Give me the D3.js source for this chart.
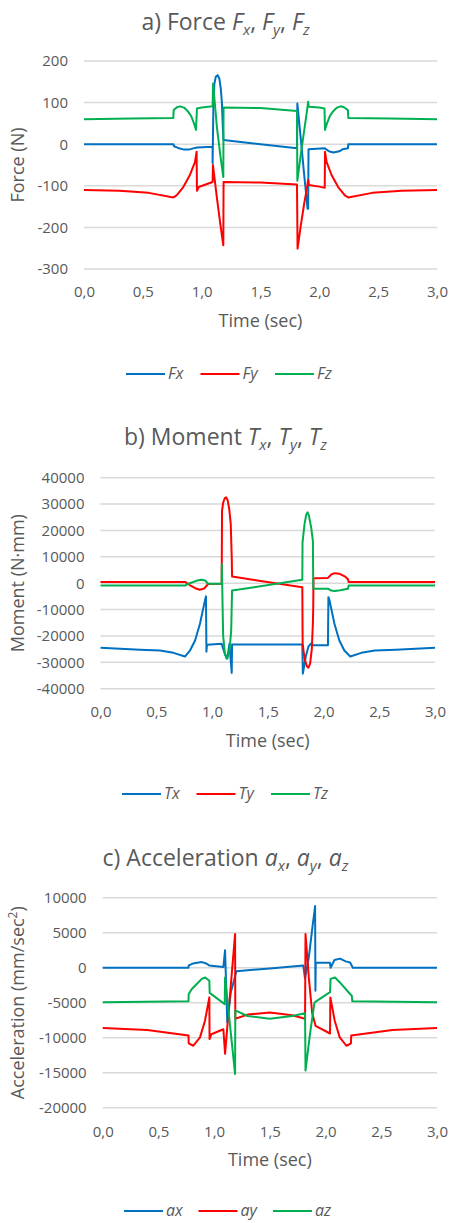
<!DOCTYPE html>
<html>
<head>
<meta charset="utf-8">
<script src="https://cdn.jsdelivr.net/npm/d3@7"></script>
<style>
  body { margin: 0; background: #fff; }
  text { font-family: "Open Sans", sans-serif; fill: #595959; }
</style>
</head>
<body>
<svg id="chart" width="451" height="1223"></svg>
<script>
// shared x ticks (time in seconds)
var timeTicks = [0, 0.5, 1, 1.5, 2, 2.5, 3];

// a) force, N
var forceTicks = [200, 100, 0, -100, -200, -300];
var fx = [[0,0],[0.76,0],[0.765,-5],[0.8,-9],[0.85,-13],[0.89,-13],[0.93,-10],[0.96,-8],[1.093,-6],[1.093,-46],
  [1.1,100],[1.108,145],[1.12,162],[1.136,166],[1.15,158],[1.162,135],[1.172,100],[1.18,40],[1.185,10],[1.5,0],
  [1.81,-10],[1.813,98],[1.84,20],[1.87,-70],[1.9,-155],[1.905,-155],[1.908,-12],[2.048,-10],[2.08,-17],[2.12,-20],
  [2.17,-17],[2.2,-12],[2.243,-10],[2.246,0],[3,0]];
var fy = [[0,-110],[0.3,-112],[0.55,-117],[0.76,-128],[0.787,-123],[0.844,-103],[0.9,-74],[0.943,-43],[0.957,-18],
  [0.96,-112],[0.975,-103],[1.093,-91],[1.096,-50],[1.13,-130],[1.16,-195],[1.184,-243],[1.186,-91],[1.5,-92],
  [1.81,-97],[1.815,-251],[1.84,-200],[1.87,-145],[1.895,-105],[1.905,-86],[1.91,-98],[2.0,-102],[2.046,-105],
  [2.048,-18],[2.062,-43],[2.104,-74],[2.16,-103],[2.217,-123],[2.246,-128],[2.45,-117],[2.7,-112],[3,-110]];
var fz = [[0,60],[0.4,62],[0.759,63],[0.762,82],[0.79,89],[0.816,91],[0.85,88],[0.88,80],[0.91,68],[0.935,50],
  [0.952,34],[0.96,86],[1.0,88],[1.093,91],[1.097,146],[1.13,40],[1.16,-30],[1.184,-79],[1.186,88],[1.5,87],
  [1.81,80],[1.813,-88],[1.84,-30],[1.87,30],[1.89,70],[1.905,102],[1.91,90],[2.0,88],[2.044,86],[2.048,34],
  [2.065,50],[2.09,68],[2.12,80],[2.15,88],[2.18,91],[2.21,89],[2.243,82],[2.246,63],[2.6,62],[3,60]];

// b) moment, N·mm
var momentTicks = [40000, 30000, 20000, 10000, 0, -10000, -20000, -30000, -40000];
var tx = [[0,-24500],[0.354,-25200],[0.534,-25500],[0.654,-26400],[0.758,-27800],[0.803,-25500],[0.848,-21700],
  [0.892,-15400],[0.937,-6500],[0.946,-5000],[0.95,-26000],[0.955,-23300],[1.087,-23000],[1.117,-27000],
  [1.138,-28500],[1.156,-23000],[1.177,-34000],[1.18,-23200],[1.5,-23200],[1.81,-23200],[1.815,-34300],
  [1.84,-28000],[1.865,-24000],[1.89,-22800],[1.91,-23500],[2.04,-23500],[2.044,-5300],[2.054,-6500],
  [2.098,-15400],[2.142,-21700],[2.187,-25500],[2.24,-27800],[2.34,-26400],[2.46,-25500],[2.65,-25200],[3,-24500]];
var ty = [[0,500],[0.758,500],[0.8,-700],[0.85,-1900],[0.89,-2500],[0.93,-2000],[0.965,-300],[1.087,-200],
  [1.09,27500],[1.1,30500],[1.115,32300],[1.126,32600],[1.14,31500],[1.155,28000],[1.168,22500],[1.177,9800],
  [1.18,2500],[1.81,-1500],[1.813,-23000],[1.83,-28500],[1.85,-31500],[1.865,-32000],[1.88,-30500],[1.895,-25000],
  [1.905,-15000],[1.908,-9000],[1.91,1900],[2.04,2000],[2.07,3300],[2.1,3800],[2.14,3600],[2.19,2600],[2.22,1500],
  [2.225,500],[3,500]];
var tz = [[0,-900],[0.758,-900],[0.8,0],[0.86,900],[0.9,1300],[0.94,1000],[0.965,-200],[1.087,-200],[1.088,7300],
  [1.092,-2000],[1.1,-20000],[1.115,-26500],[1.13,-28600],[1.145,-27500],[1.16,-24000],[1.172,-18000],[1.18,-2800],
  [1.81,1300],[1.812,15500],[1.83,22500],[1.845,26000],[1.857,26900],[1.87,25500],[1.89,21000],[1.905,16000],
  [1.908,-2100],[2.04,-2100],[2.07,-2800],[2.1,-3000],[2.15,-2700],[2.22,-2100],[2.225,-900],[3,-900]];

// c) acceleration, mm/sec²
var accelTicks = [10000, 5000, 0, -5000, -10000, -15000, -20000];
var ax = [[0,0],[0.77,0],[0.772,330],[0.82,650],[0.89,800],[0.93,600],[0.955,330],[1.083,100],[1.098,2500],
  [1.118,-7800],[1.15,-3500],[1.2,-500],[1.5,-100],[1.8,300],[1.815,-1500],[1.85,1500],[1.88,5500],[1.906,8800],
  [1.909,-3300],[1.912,700],[2.04,700],[2.045,0],[2.08,1100],[2.13,1300],[2.18,900],[2.22,750],[2.245,0],[3,0]];
var ay = [[0,-8600],[0.4,-8900],[0.77,-9700],[0.772,-10800],[0.813,-11150],[0.873,-9950],[0.918,-7570],[0.957,-4240],
  [0.959,-10200],[0.975,-9500],[1.083,-8800],[1.098,-12300],[1.188,4800],[1.19,-7300],[1.3,-6700],[1.5,-6400],
  [1.7,-6800],[1.816,-7300],[1.82,4800],[1.85,-1500],[1.88,-6500],[1.91,-8300],[2.04,-9400],[2.043,-4240],
  [2.082,-7570],[2.127,-9950],[2.187,-11150],[2.228,-10800],[2.23,-9700],[2.6,-8900],[3,-8600]];
var az = [[0,-4950],[0.77,-4800],[0.772,-3750],[0.8,-3050],[0.844,-2330],[0.889,-1600],[0.92,-1400],[0.957,-1860],
  [0.96,-3600],[1.095,-5200],[1.098,-1400],[1.188,-15200],[1.19,-6100],[1.3,-6900],[1.5,-7300],[1.7,-6900],
  [1.816,-6500],[1.82,-14700],[1.86,-9500],[1.9,-5000],[1.915,-4800],[2.04,-3500],[2.045,-1600],[2.085,-1400],
  [2.14,-2300],[2.2,-3400],[2.235,-4000],[2.24,-4800],[3,-4950]];

var colors = ["#0070C0", "#FF0000", "#00B050"];

// comma decimals like the original spreadsheet
var locale = d3.formatLocale({ decimal: ",", thousands: ".", grouping: [3], currency: ["", ""], minus: "-" });
var fmtTime = locale.format(".1f"),
    fmtVal = locale.format("d");

var svg = d3.select("#chart");

function drawChart(o) {
    var g = svg.append("g");

    var x = d3.scaleLinear().domain([0, 3]).range([o.left, o.right]);
    var y = d3.scaleLinear()
        .domain([o.yTicks[o.yTicks.length - 1], o.yTicks[0]])
        .range([o.bottom, o.top]);

    // horizontal gridlines
    g.selectAll(".grid")
        .data(o.yTicks)
        .enter().append("line")
        .attr("class", "grid")
        .attr("x1", o.left).attr("x2", o.right)
        .attr("y1", function (d) { return y(d); })
        .attr("y2", function (d) { return y(d); })
        .attr("stroke", "#d9d9d9")
        .attr("stroke-width", 1.5);

    // y axis labels
    var ya = g.append("g")
        .attr("transform", "translate(" + o.left + ",0)")
        .call(d3.axisLeft(y).tickValues(o.yTicks).tickFormat(fmtVal).tickSize(0).tickPadding(16));
    ya.select(".domain").remove();
    ya.selectAll("text").attr("font-size", 15).attr("fill", "#595959").attr("font-family", "Open Sans");

    // x axis labels
    var xa = g.append("g")
        .attr("transform", "translate(0," + o.bottom + ")")
        .call(d3.axisBottom(x).tickValues(timeTicks).tickFormat(fmtTime).tickSize(0).tickPadding(o.xPad));
    xa.select(".domain").remove();
    xa.selectAll("text").attr("font-size", 15).attr("fill", "#595959").attr("font-family", "Open Sans");

    // data lines
    var line = d3.line()
        .x(function (d) { return x(d[0]); })
        .y(function (d) { return y(d[1]); });

    o.series.forEach(function (s, i) {
        g.append("path")
            .datum(s)
            .attr("fill", "none")
            .attr("stroke", colors[i])
            .attr("stroke-width", 2)
            .attr("stroke-linejoin", "round")
            .attr("d", line);
    });

    // chart title with italic subscripts
    var t = g.append("text")
        .attr("x", 225.5).attr("y", o.titleY)
        .attr("text-anchor", "middle")
        .attr("font-size", 23);
    var prevSub = false;
    o.title.forEach(function (p) {
        var ts = t.append("tspan").text(p[0]);
        if (p[1] != "n") ts.attr("font-style", "italic");
        if (p[1] == "s") ts.attr("font-size", 15).attr("dy", 5);
        else if (prevSub) ts.attr("dy", -5);
        prevSub = p[1] == "s";
    });

    // axis titles
    g.append("text")
        .attr("x", (o.left + o.right) / 2).attr("y", o.bottom + 58)
        .attr("text-anchor", "middle")
        .attr("font-size", 18)
        .text("Time (sec)");

    var yt = g.append("text")
        .attr("transform", "translate(24," + (o.top + o.bottom) / 2 + ") rotate(-90)")
        .attr("text-anchor", "middle")
        .attr("font-size", 18);
    yt.append("tspan").text(o.yTitle);
    if (o.yTitleSup) {
        yt.append("tspan").text(o.yTitleSup).attr("font-size", 12).attr("dy", -7);
        yt.append("tspan").text(o.yTitleEnd).attr("dy", 7);
    }

    // legend
    o.legend.forEach(function (name, i) {
        var lx = o.legendX + i * 74.5;
        g.append("line")
            .attr("x1", lx).attr("x2", lx + 39)
            .attr("y1", o.legendY).attr("y2", o.legendY)
            .attr("stroke", colors[i]).attr("stroke-width", 2);
        g.append("text")
            .attr("x", lx + 42).attr("y", o.legendY)
            .attr("dy", "0.32em")
            .attr("font-size", 16)
            .attr("font-style", "italic")
            .text(name);
    });
}

drawChart({
    left: 84, right: 437, top: 61, bottom: 269, xPad: 17,
    yTicks: forceTicks, series: [fx, fy, fz],
    title: [["a) Force ", "n"], ["F", "i"], ["x", "s"], [", ", "n"], ["F", "i"], ["y", "s"], [", ", "n"], ["F", "i"], ["z", "s"]],
    titleY: 30, yTitle: "Force (N)",
    legend: ["Fx", "Fy", "Fz"], legendX: 126, legendY: 374
});

drawChart({
    left: 100.5, right: 435, top: 477.7, bottom: 688.7, xPad: 18,
    yTicks: momentTicks, series: [tx, ty, tz],
    title: [["b) Moment ", "n"], ["T", "i"], ["x", "s"], [", ", "n"], ["T", "i"], ["y", "s"], [", ", "n"], ["T", "i"], ["z", "s"]],
    titleY: 445, yTitle: "Moment (N·mm)",
    legend: ["Tx", "Ty", "Tz"], legendX: 122, legendY: 794
});

drawChart({
    left: 102.7, right: 437, top: 897.7, bottom: 1107.7, xPad: 19,
    yTicks: accelTicks, series: [ax, ay, az],
    title: [["c) Acceleration ", "n"], ["a", "i"], ["x", "s"], [", ", "n"], ["a", "i"], ["y", "s"], [", ", "n"], ["a", "i"], ["z", "s"]],
    titleY: 866, yTitle: "Acceleration (mm/sec", yTitleSup: "2", yTitleEnd: ")",
    legend: ["ax", "ay", "az"], legendX: 124, legendY: 1211
});
</script>
</body>
</html>
